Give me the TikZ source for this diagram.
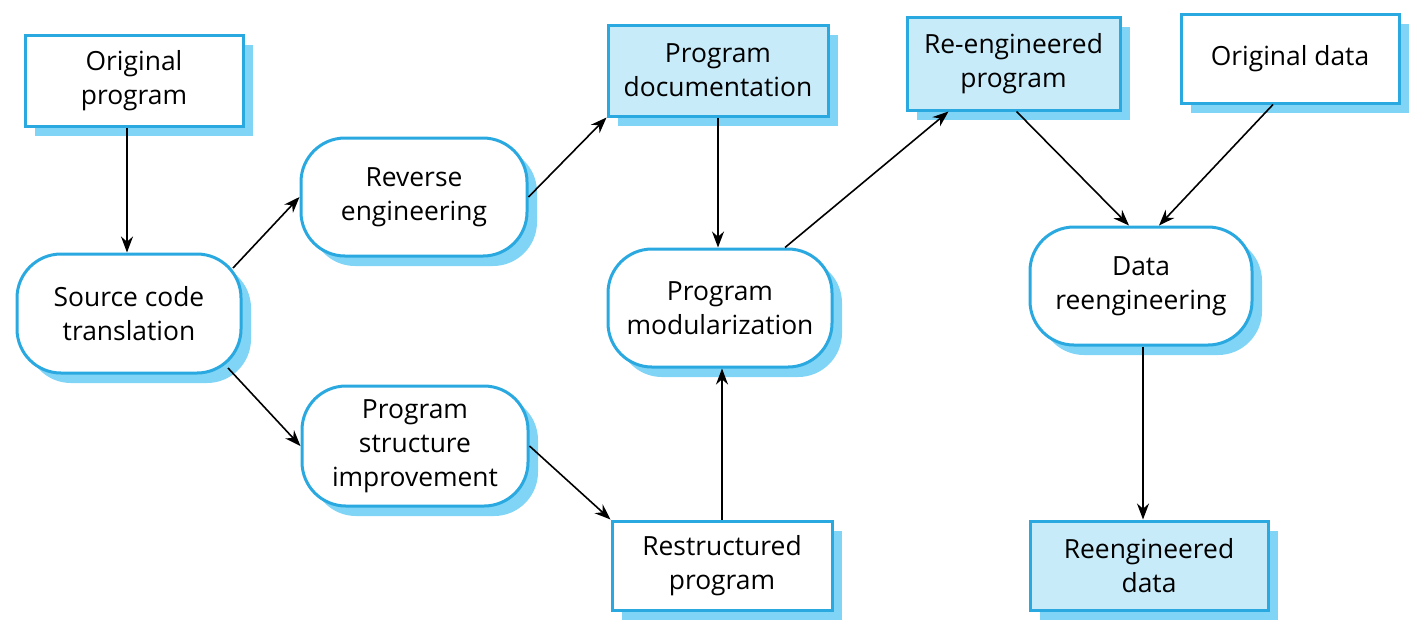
\documentclass[tikz,border=0pt]{standalone}
\usepackage{fontspec}
\setmainfont{Open Sans}
\usetikzlibrary{shadows,calc,arrows.meta}
\definecolor{bordercol}{HTML}{2AA9E0}
\definecolor{fillcol}{HTML}{C8EBF9}
\definecolor{shadowcol}{HTML}{80D4F5}
\begin{document}
\begin{tikzpicture}[x=0.5pt,y=-0.5pt,
  base/.style={draw=bordercol, line width=1.5pt, align=center,
    font=\fontsize{13.2}{17}\selectfont, inner sep=0pt,
    drop shadow={shadow xshift=5pt, shadow yshift=-5pt, fill=shadowcol, opacity=1}},
  databox/.style={base, rectangle, fill=white},
  outbox/.style={base, rectangle, fill=fillcol},
  procbox/.style={base, rectangle, rounded corners=22pt, fill=white},
  arr/.style={-{Stealth[length=8pt,width=6pt]}, line width=0.8pt}]
\useasboundingbox (0,0) rectangle (1423,634);

\node[databox, minimum width=109pt, minimum height=45.5pt] (orig) at (134,80.5) {Original\\program};
\node[procbox, minimum width=112pt, minimum height=59.5pt] (sct) at (129,313.5) {Source code\\translation};
\node[procbox, minimum width=113pt, minimum height=59pt] (rev) at (414,197) {Reverse\\engineering};
\node[procbox, minimum width=113pt, minimum height=60pt] (psi) at (415,446) {Program\\structure\\improvement};
\node[outbox, minimum width=110pt, minimum height=45.5pt] (doc) at (718,70.5) {Program\\documentation};
\node[procbox, minimum width=112pt, minimum height=59pt] (mod) at (720,308) {Program\\modularization};
\node[databox, minimum width=110pt, minimum height=44.5pt] (rest) at (722,565.5) {Restructured\\program};
\node[outbox, minimum width=106.5pt, minimum height=46.5pt] (reeng) at (1013.5,63.5) {Re-engineered\\program};
\node[databox, minimum width=109pt, minimum height=44.5pt] (odata) at (1290,58.5) {Original data};
\node[procbox, minimum width=111pt, minimum height=59pt] (dre) at (1141,286) {Data\\reengineering};
\node[outbox, minimum width=119pt, minimum height=44.5pt] (rdata) at (1149,565.5) {Reengineered\\data};

\coordinate (dreout) at ($(dre.south)+(2,0)$);

\draw[arr] ($(orig.south)+(-7,0)$) -- ($(sct.north)+(-2,0)$);
\draw[arr] ($(sct.center)+(104,-45.5)$) -- (rev.west);
\draw[arr] ($(sct.center)+(99,54.5)$) -- (psi.west);
\draw[arr] (rev.east) -- (doc.south west);
\draw[arr] (doc.south) -- (doc.south |- mod.north);
\draw[arr] (psi.east) -- (rest.north west);
\draw[arr] (rest.north) -- (rest.north |- mod.south);
\draw[arr] ($(mod.north)+(65,0)$) -- ($(reeng.south)+(-65,0)$);
\draw[arr] ($(reeng.south)+(3,0)$) -- ($(dre.north)+(-12,0)$);
\draw[arr] ($(odata.south)+(-17,0)$) -- ($(dre.north)+(18,0)$);
\draw[arr] (dreout) -- (dreout |- rdata.north);
\end{tikzpicture}
\end{document}
